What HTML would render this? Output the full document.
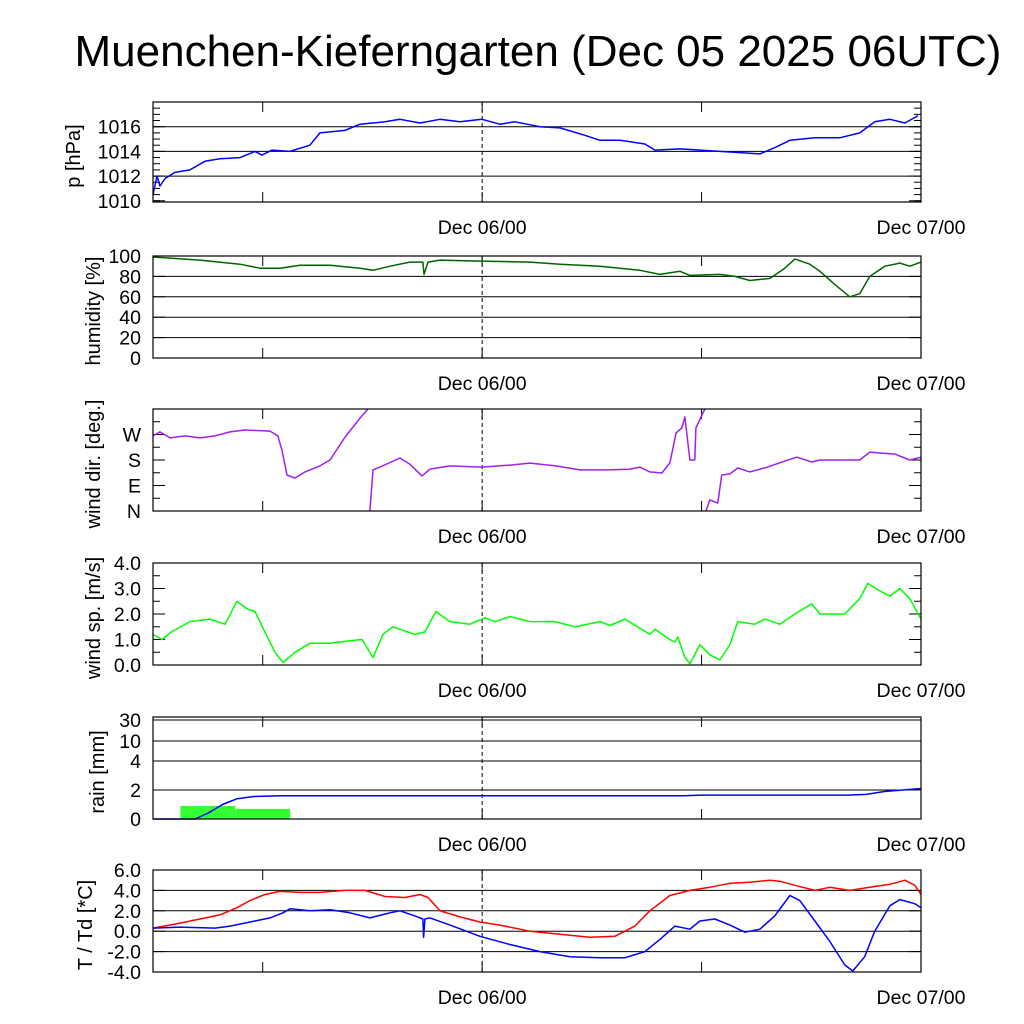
<!DOCTYPE html>
<html><head><meta charset="utf-8"><style>
body{margin:0;background:#fff;}
svg{display:block;font-family:"Liberation Sans",sans-serif;}
</style></head><body>
<svg id="c" width="1024" height="1024" viewBox="0 0 1024 1024" xmlns="http://www.w3.org/2000/svg">
<rect width="1024" height="1024" fill="#fff"/>
<text x="538" y="66" font-size="44" text-anchor="middle">Muenchen-Kieferngarten (Dec 05 2025 06UTC)</text>
</svg>
<script>
const NS="http://www.w3.org/2000/svg";
const svg=document.getElementById('c');
// time axis: hours since Dec 05 06UTC
const timeTickHours=[6,18,30];
const timeLabelHours=[18,42];
const timeLabels=["Dec 06/00","Dec 07/00"];

const pTime=[0,0.22,0.38,0.66,1.2,2.02,2.84,3.66,4.76,5.58,5.96,6.51,7.49,8.58,9.13,10.5,11.32,12.69,13.51,14.6,15.69,16.79,17.99,18.97,19.79,21.16,22.26,23.62,24.44,25.54,26.9,27.45,28.82,31.0,33.19,34.0,34.83,36.2,37.56,38.65,39.47,40.3,41.12,41.84];
const pVal=[1010.5,1012,1011.2,1011.8,1012.3,1012.5,1013.2,1013.4,1013.5,1014,1013.7,1014.1,1014,1014.5,1015.5,1015.7,1016.2,1016.4,1016.6,1016.3,1016.6,1016.4,1016.6,1016.2,1016.4,1016,1015.9,1015.3,1014.9,1014.9,1014.6,1014.1,1014.2,1014.0,1013.8,1014.3,1014.9,1015.1,1015.1,1015.5,1016.4,1016.6,1016.3,1016.9];

const hTime=[0,2.57,4.76,5.85,6.94,8.04,9.68,11.32,12.03,12.96,14.05,14.76,14.82,15.04,15.69,17.88,20.61,22.26,24.44,26.63,27.72,28.82,29.36,31.0,31.82,32.64,33.74,34.55,35.1,35.92,36.47,37.29,38.1,38.65,39.2,40.02,40.84,41.39,42];
const hVal=[99,96,92,88,88,91,91,88,86,90,94,94,82,94,96,95,94,92,90,86,82,85,81,82,80,76,78,88,97,92,85,72,60,63,80,90,93,90,94];

const dTime=[0,0.38,0.93,1.75,2.57,3.39,4.21,5.03,6.4,6.83,7.05,7.33,7.76,8.31,9.13,9.68,10.5,11.32,11.76,11.86,12.03,12.41,13.51,14.05,14.71,15.15,16.24,17.99,19.52,20.61,21.98,23.35,24.99,26.08,26.63,27.17,27.83,28.27,28.6,28.92,29.09,29.14,29.36,29.63,29.69,30.07,30.18,30.24,30.45,30.89,31.1,31.55,31.98,32.64,33.46,34.55,35.21,36.03,36.47,37.56,38.65,39.2,40.57,41.39,42];
const dVal=[265,279,258,265,258,265,279,286,282,265,215,127,116,138,159,180,261,328,360,0,145,155,187,165,124,148,159,155,162,169,160,145,145,148,155,138,134,170,275,293,332,303,180,180,293,346,360,0,39,28,127,131,152,138,152,176,190,173,180,180,180,208,201,180,190];

const sTime=[0,0.5,1.0,2.02,3.12,3.94,4.59,5.14,5.58,6.12,6.67,7.11,7.76,8.58,9.68,10.77,11.43,12.03,12.58,13.12,14.32,14.87,15.47,16.24,17.33,18.15,18.7,19.52,20.61,21.98,23.07,24.44,24.99,25.81,27.17,27.45,28.27,28.54,28.7,29.09,29.36,29.91,30.45,31.0,31.55,31.98,32.91,33.46,34.28,35.1,36.03,36.47,37.83,38.65,39.09,39.75,40.3,40.84,41.39,42];
const sVal=[1.2,1.0,1.3,1.7,1.8,1.6,2.5,2.2,2.1,1.3,0.5,0.1,0.5,0.85,0.85,0.95,1.0,0.3,1.2,1.5,1.2,1.3,2.1,1.7,1.6,1.85,1.7,1.9,1.7,1.7,1.5,1.7,1.55,1.8,1.2,1.4,1.0,0.9,1.1,0.3,0.05,0.8,0.4,0.2,0.8,1.7,1.6,1.8,1.6,2.0,2.4,2.0,2.0,2.6,3.2,2.9,2.7,3.0,2.6,1.8];

const rTime=[0,2.3,3.0,3.8,4.6,5.5,7,29,30,38,39,40,41,42];
const rCum=[0,0,0.4,1.0,1.4,1.55,1.6,1.6,1.65,1.65,1.7,1.9,2.0,2.1];
const barStart=[1.5,4.5];
const barEnd=[4.5,7.5];
const barVal=[0.9,0.7];

const tTime=[0,1.2,2.57,3.66,4.59,5.3,6.12,6.94,8.04,9.13,10.5,11.59,12.69,13.78,14.6,15.04,15.69,16.79,17.88,18.97,20.61,22.26,23.89,25.26,26.35,27.17,28.27,29.36,30.45,31.55,32.64,33.74,34.28,35.1,36.2,37.01,38.1,39.2,40.3,41.12,41.66,42];
const tVal=[0.3,0.7,1.2,1.6,2.3,3.0,3.6,3.9,3.8,3.8,4.0,4.0,3.4,3.3,3.6,3.3,2.0,1.4,0.9,0.6,0.0,-0.3,-0.6,-0.5,0.5,2.0,3.5,4.0,4.3,4.7,4.8,5.0,4.9,4.5,4.0,4.3,4.0,4.3,4.6,5.0,4.5,3.6];
const tdTime=[0,1.48,3.39,4.21,5.58,6.4,7.11,7.49,8.58,9.68,10.77,11.86,12.96,13.51,14.32,14.76,14.8,14.87,15.15,16.24,17.88,19.52,21.16,22.8,24.44,25.81,26.9,27.72,28.54,29.36,29.91,30.73,31.55,32.37,33.19,34.0,34.83,35.37,36.2,37.01,37.83,38.27,38.92,39.47,40.3,40.84,41.66,42];
const tdVal=[0.3,0.4,0.3,0.5,1.0,1.3,1.8,2.2,2.0,2.1,1.8,1.3,1.8,2.0,1.5,1.2,-0.6,1.2,1.3,0.6,-0.5,-1.3,-2.0,-2.5,-2.6,-2.6,-2.0,-0.8,0.5,0.2,1.0,1.2,0.6,-0.1,0.2,1.5,3.5,3.0,1.0,-1.0,-3.3,-3.9,-2.5,0,2.5,3.1,2.7,2.3];

const pTicks=[1010,1012,1014,1016];
const hTicks=[0,20,40,60,80,100];
const dTicks=[0,90,180,270];
const dTickLabels=["N","E","S","W"];
const sTicks=[0,1,2,3,4];
const rTicks=[0,2,4,10,30];
const tTicks=[-4,-2,0,2,4,6];

const X0=153,X1=921,H=42;
const xs=h=>X0+(X1-X0)*h/H;
function el(tag,attrs,parent){const e=document.createElementNS(NS,tag);for(const k in attrs)e.setAttribute(k,attrs[k]);(parent||svg).appendChild(e);return e;}
function lin(d0,d1,top,bot){return v=>bot-(v-d0)/(d1-d0)*(bot-top);}

const panels=[
 {name:'pressure',top:102,bot:202,y:lin(1009.9,1018,102,202),ticks:pTicks,labels:pTicks.map(String),grid:[1012,1014,1016],minor:0.5,min:1009.9,max:1018,title:'p [hPa]'},
 {name:'humidity',top:256,bot:358,y:lin(0,100,256,358),ticks:hTicks,labels:hTicks.map(String),grid:[20,40,60,80],minor:null,min:0,max:100,title:'humidity [%]'},
 {name:'wind-direction',top:409,bot:511,y:lin(0,360,409,511),ticks:dTicks,labels:dTickLabels,grid:[],minor:45,min:0,max:360,title:'wind dir. [deg.]'},
 {name:'wind-speed',top:563,bot:665,y:lin(0,4,563,665),ticks:sTicks,labels:sTicks.map(v=>v.toFixed(1)),grid:[],minor:0.5,min:0,max:4,title:'wind sp. [m/s]'},
 {name:'rain',top:717,bot:819,y:null,ticks:rTicks,labels:rTicks.map(String),grid:[2,4,10,30],minor:null,min:0,max:30,title:'rain [mm]'},
 {name:'temperature',top:870,bot:972,y:lin(-4,6,870,972),ticks:tTicks,labels:tTicks.map(v=>v.toFixed(1)),grid:[-2,0,2,4],minor:null,min:-4,max:6,title:'T / Td [*C]'}
];
const rPix=[819,790,761,741,720];
panels[4].y=v=>{for(let i=0;i<rTicks.length-1;i++){if(v<=rTicks[i+1]){const f=(v-rTicks[i])/(rTicks[i+1]-rTicks[i]);return rPix[i]+f*(rPix[i+1]-rPix[i]);}}return rPix[rPix.length-1];};

function line(p,times,vals,color,name,wrap){
  let d='',prev=null;
  times.forEach((t,i)=>{const v=vals[i];const cmd=(prev===null||(wrap&&Math.abs(v-prev)>300))?'M':'L';d+=cmd+xs(t).toFixed(1)+','+p.y(v).toFixed(1)+' ';prev=v;});
  const e=el('path',{d:d,fill:'none',stroke:color,'stroke-width':1.5,'stroke-linejoin':'round'});
  
  
}

panels.forEach((p,pi)=>{
  const g=el('g',{});
  
  
  p.grid.forEach(v=>{const gl=el('line',{x1:X0,x2:X1,y1:p.y(v),y2:p.y(v),stroke:'#000','stroke-width':1},g);});
  if(p.minor){for(let v=p.min+((p.min%p.minor)?p.minor-(p.min%p.minor):0);v<=p.max+1e-6;v+=p.minor){const yy=p.y(v);el('line',{x1:X0,x2:X0+7,y1:yy,y2:yy,stroke:'#000','stroke-width':1},g);el('line',{x1:X1-7,x2:X1,y1:yy,y2:yy,stroke:'#000','stroke-width':1},g);}}
  p.ticks.forEach((v,i)=>{const yy=p.y(v);el('line',{x1:X0,x2:X0+12,y1:yy,y2:yy,stroke:'#000'},g);el('line',{x1:X1-12,x2:X1,y1:yy,y2:yy,stroke:'#000'},g);
    const t=el('text',{x:X0-12,y:yy+7,'font-size':19.5,'text-anchor':'end'},g);t.textContent=p.labels[i];});
  timeTickHours.forEach(h=>{el('line',{x1:xs(h),x2:xs(h),y1:p.bot,y2:p.bot-10,stroke:'#000'},g);el('line',{x1:xs(h),x2:xs(h),y1:p.top,y2:p.top+10,stroke:'#000'},g);});
  const dl=el('line',{x1:xs(18),x2:xs(18),y1:p.top,y2:p.bot,stroke:'#000','stroke-dasharray':'4,3'},g);
  
  timeLabelHours.forEach((h,i)=>{const t=el('text',{x:xs(h),y:p.bot+32,'font-size':19.5,'text-anchor':'middle'},g);t.textContent=timeLabels[i];});
  const cy=(p.top+p.bot)/2+4;
  const at=el('text',{x:0,y:0,'font-size':20,'text-anchor':'middle',transform:`translate(${pi==0?80:pi==4?104:pi==5?92:100},${cy}) rotate(-90)`},g);
  at.textContent=p.title;
});

line(panels[0],pTime,pVal,'#0000ff','pressure-line');
line(panels[1],hTime,hVal,'#006400','humidity-line');
line(panels[2],dTime,dVal,'#a020f0','wind-direction-line',true);
line(panels[3],sTime,sVal,'#00ff00','wind-speed-line');
barStart.forEach((s,i)=>{const p=panels[4];const y=p.y(barVal[i]);const r=el('rect',{x:xs(s),y:y,width:xs(barEnd[i])-xs(s),height:p.bot-y,fill:'#33ff33'});
  });
line(panels[4],rTime,rCum,'#0000ff','rain-cumulative-line');
line(panels[5],tTime,tVal,'#ff0000','temperature-line');
line(panels[5],tdTime,tdVal,'#0000ff','dewpoint-line');
panels.forEach(p=>{const b=el('rect',{x:X0,y:p.top,width:X1-X0,height:p.bot-p.top,fill:'none',stroke:'#000','stroke-width':1.2});});
</script>
</body></html>
